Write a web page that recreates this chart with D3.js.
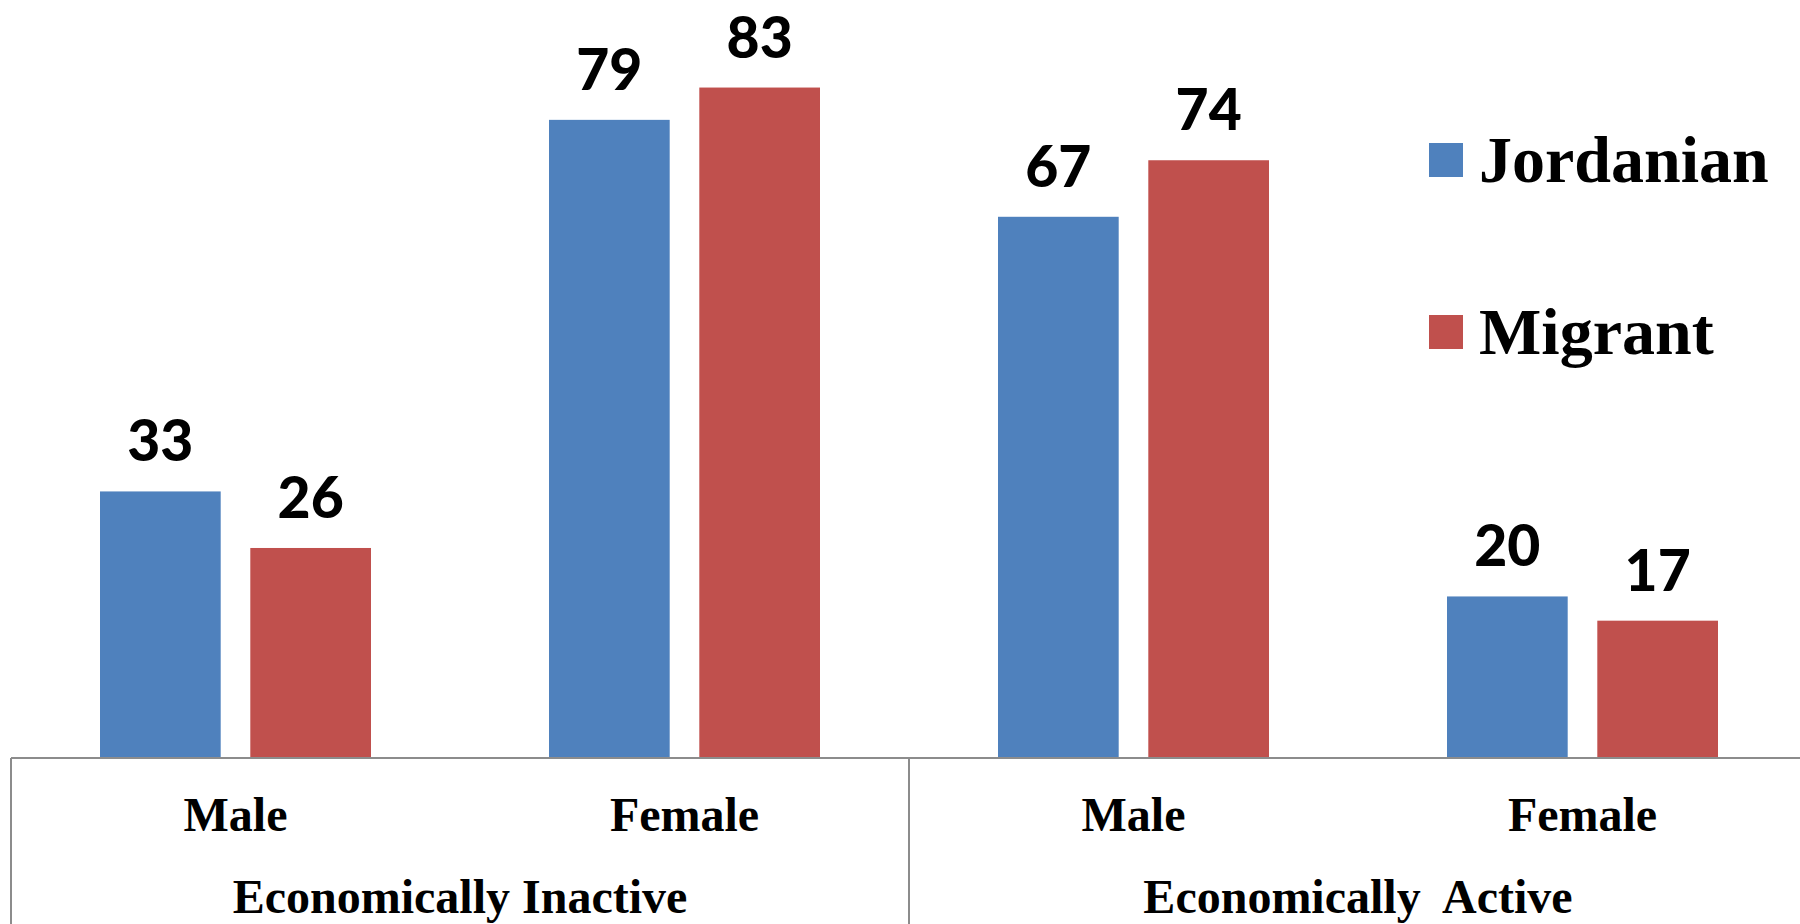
<!DOCTYPE html>
<html>
<head>
<meta charset="utf-8">
<script src="https://cdn.jsdelivr.net/npm/d3@7"></script>
<style>
  body { margin: 0; background: #fff; }
  svg { display: block; }
</style>
</head>
<body>
<script>
var groups = ['Economically Inactive', 'Economically  Active'];
var categories = ['Inactive Male', 'Inactive Female', 'Active Male', 'Active Female'];
var catLabels = ['Male', 'Female', 'Male', 'Female'];
var series = ['Jordanian', 'Migrant'];
var jordanian = [33, 79, 67, 20];
var migrant = [26, 83, 74, 17];

var cols = ['#4f81bd', '#c0504d'];

var W = 1800, H = 924;
var svg = d3.select('body').append('svg')
  .attr('width', W)
  .attr('height', H);

var left = 11, right = 1807, base = 758;

var x0 = d3.scaleBand()
  .domain(categories)
  .range([left, right])
  .paddingInner(0)
  .paddingOuter(0);

var x1 = d3.scaleBand()
  .domain(series)
  .range([89, x0.bandwidth() - 89])
  .paddingInner(0.197)
  .paddingOuter(0);

var y = d3.scaleLinear()
  .domain([0, 90])
  .range([base, 31]);

var data = categories.map(function (c, i) {
  return { cat: c, values: [jordanian[i], migrant[i]] };
});

var cat = svg.append('g')
  .selectAll('g')
  .data(data)
  .enter().append('g')
  .attr('transform', function (d) { return 'translate(' + x0(d.cat) + ',0)'; });

var bars = cat.selectAll('g')
  .data(function (d) { return d.values.map(function (v, i) { return { s: series[i], v: v, i: i }; }); })
  .enter().append('g');

bars.append('rect')
  .attr('x', function (d) { return x1(d.s); })
  .attr('y', function (d) { return y(d.v); })
  .attr('width', x1.bandwidth())
  .attr('height', function (d) { return base - y(d.v); })
  .attr('fill', function (d) { return cols[d.i]; });

// data labels (Calibri bold in the original)
bars.append('text')
  .attr('x', function (d) { return x1(d.s) + x1.bandwidth() / 2; })
  .attr('y', function (d) { return y(d.v) - 30; })
  .attr('text-anchor', 'middle')
  .attr('font-family', 'Lato, sans-serif')
  .attr('font-weight', 900)
  .attr('font-size', 57)
  .attr('fill', '#000')
  .text(function (d) { return d.v; });

// category axis, two levels
var axis = svg.append('g')
  .attr('stroke', '#8c8c8c')
  .attr('stroke-width', 2)
  .attr('fill', 'none');

axis.append('line')
  .attr('x1', left).attr('x2', W)
  .attr('y1', base).attr('y2', base);

[left, x0(categories[2]), right].forEach(function (xv) {
  axis.append('line')
    .attr('x1', xv).attr('x2', xv)
    .attr('y1', base).attr('y2', H);
});

svg.append('g')
  .selectAll('text')
  .data(categories)
  .enter().append('text')
  .attr('x', function (d) { return x0(d) + x0.bandwidth() / 2; })
  .attr('y', 831)
  .attr('text-anchor', 'middle')
  .attr('font-family', '"Liberation Serif", "Times New Roman", serif')
  .attr('font-weight', 'bold')
  .attr('font-size', 48)
  .text(function (d, i) { return catLabels[i]; });

svg.append('g')
  .selectAll('text')
  .data(groups)
  .enter().append('text')
  .attr('x', function (d, i) { return x0(categories[i * 2]) + x0.bandwidth(); })
  .attr('y', 913)
  .attr('text-anchor', 'middle')
  .attr('font-family', '"Liberation Serif", "Times New Roman", serif')
  .attr('font-weight', 'bold')
  .attr('font-size', 48)
  .style('white-space', 'pre')
  .text(function (d) { return d; });

// legend
var legend = svg.append('g')
  .attr('transform', 'translate(1429,143)')
  .selectAll('g')
  .data(series)
  .enter().append('g')
  .attr('transform', function (d, i) { return 'translate(0,' + i * 172 + ')'; });

legend.append('rect')
  .attr('width', 34)
  .attr('height', 34)
  .attr('fill', function (d, i) { return cols[i]; });

legend.append('text')
  .attr('x', 50)
  .attr('y', 39)
  .attr('font-family', '"Liberation Serif", "Times New Roman", serif')
  .attr('font-weight', 'bold')
  .attr('font-size', 66)
  .text(function (d) { return d; });
</script>
</body>
</html>
